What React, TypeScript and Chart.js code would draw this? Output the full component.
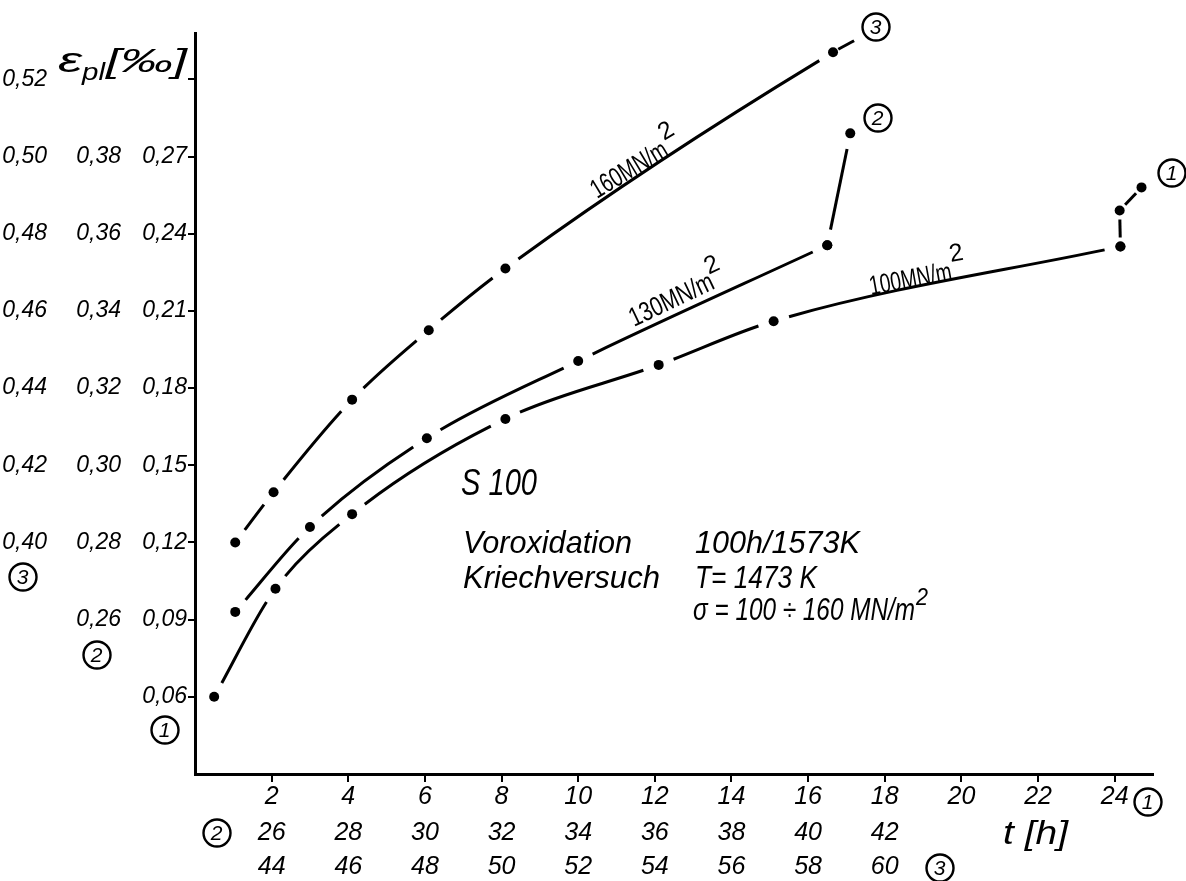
import React, { useEffect, useRef } from 'react';
import { Chart, registerables } from 'chart.js';

Chart.register(...registerables);

// ---- data ----
// Curve ① : 100 MN/m², read on scale ① (t in h, eps_pl in ‰)
const T1 = [0.5, 2.1, 4.1, 8.1, 12.1, 15.1, 24.15];
const E1 = [0.06, 0.102, 0.131, 0.168, 0.189, 0.206, 0.235];
const T1_END = [24.15, 24.13, 24.7];
const E1_END = [0.235, 0.249, 0.258];
// Curve ② : 130 MN/m², read on scale ②
const T2 = [25.05, 27.0, 30.05, 34.0, 40.5];
const E2 = [0.262, 0.284, 0.307, 0.327, 0.357];
const T2_END = [40.5, 41.1];
const E2_END = [0.357, 0.386];
// Curve ③ : 160 MN/m², read on scale ③ (last value = open end of the line, no marker)
const T3 = [43.05, 44.05, 46.1, 48.1, 50.1, 58.65, 59.2];
const E3 = [0.4, 0.413, 0.437, 0.455, 0.471, 0.527, 0.53];
const R3 = [5, 5, 5, 5, 5, 5, 0];

// tick labels
const X1_TICKS = [2, 4, 6, 8, 10, 12, 14, 16, 18, 20, 22, 24];
const X2_TICKS = [26, 28, 30, 32, 34, 36, 38, 40, 42];
const X3_TICKS = [44, 46, 48, 50, 52, 54, 56, 58, 60];
const Y1_TICKS = [0.06, 0.09, 0.12, 0.15, 0.18, 0.21, 0.24, 0.27, 0.3];
const Y1_LABELED = [0.06, 0.09, 0.12, 0.15, 0.18, 0.21, 0.24, 0.27];
const Y2_TICKS = [0.26, 0.28, 0.3, 0.32, 0.34, 0.36, 0.38];
const Y3_TICKS = [0.4, 0.42, 0.44, 0.46, 0.48, 0.5, 0.52];

const FONT = '"Liberation Sans", "DejaVu Sans", Arial, sans-serif';
const NARROW = '"Liberation Sans Narrow", "Liberation Sans", "DejaVu Sans Condensed", sans-serif';

const pts = (xs: number[], ys: number[]) => xs.map((x, i) => ({ x, y: ys[i] }));
const comma = (v: number) => v.toFixed(2).replace('.', ',');

const GAP = 16;
function gapDash(ctx: any) {
  const p0 = ctx.p0;
  const p1 = ctx.p1;
  const L = Math.hypot(p1.x - p0.x, p1.y - p0.y);
  const g = Math.min(GAP, L * 0.25);
  const m0 = p0.options && p0.options.radius > 0;
  const m1 = p1.options && p1.options.radius > 0;
  const g0 = m0 ? g : 0;
  const g1 = m1 ? g : 0;
  return [0, g0, Math.max(L - g0 - g1, 0.5), 100000 + ctx.p0DataIndex * 0.01 + ctx.datasetIndex * 0.001];
}

function fitText(ctx: CanvasRenderingContext2D, text: string, x: number, y: number, width: number, size: number, family = FONT, italic = true) {
  ctx.save();
  ctx.font = `${italic ? 'italic ' : ''}${size}px ${family}`;
  ctx.textAlign = 'left';
  ctx.textBaseline = 'alphabetic';
  const m = ctx.measureText(text).width;
  ctx.translate(x, y);
  ctx.scale(width / m, 1);
  ctx.fillText(text, 0, 0);
  ctx.restore();
}

function curveLabel(ctx: CanvasRenderingContext2D, text: string, x0: number, y0: number, x1: number, y1: number, size: number, supAlong: number, supUp: number) {
  const ang = Math.atan2(y1 - y0, x1 - x0);
  const len = Math.hypot(x1 - x0, y1 - y0);
  ctx.save();
  ctx.translate(x0, y0);
  ctx.rotate(ang);
  ctx.font = `${size}px ${NARROW}`;
  ctx.textAlign = 'left';
  ctx.textBaseline = 'alphabetic';
  const m = ctx.measureText(text).width;
  ctx.save();
  ctx.scale(len / m, 1);
  ctx.fillText(text, 0, 0);
  ctx.restore();
  ctx.font = `${size - 2}px ${NARROW}`;
  ctx.textAlign = 'center';
  ctx.textBaseline = 'middle';
  ctx.fillText('2', len + supAlong, -supUp);
  ctx.restore();
}

function circled(ctx: CanvasRenderingContext2D, cx: number, cy: number, digit: string) {
  ctx.save();
  ctx.beginPath();
  ctx.arc(cx, cy, 13.5, 0, Math.PI * 2);
  ctx.lineWidth = 2.4;
  ctx.strokeStyle = '#000';
  ctx.stroke();
  ctx.font = `italic 21px ${FONT}`;
  ctx.textAlign = 'center';
  ctx.textBaseline = 'middle';
  ctx.fillStyle = '#000';
  ctx.fillText(digit, cx - 0.5, cy + 1);
  ctx.restore();
}

const annotations = {
  id: 'annotations',
  afterDraw(chart: any) {
    const ctx: CanvasRenderingContext2D = chart.ctx;
    ctx.save();
    ctx.fillStyle = '#000';
    // y-axis title
    fitText(ctx, 'ε', 58, 72, 24, 36);
    fitText(ctx, 'pl', 82, 80, 23, 24);
    fitText(ctx, '[‰]', 106, 72, 81, 33);
    // x-axis title
    fitText(ctx, 't [h]', 1003, 844, 65, 34);
    // scale markers
    circled(ctx, 165, 730, '1');
    circled(ctx, 97, 655, '2');
    circled(ctx, 23, 577, '3');
    circled(ctx, 1148, 802, '1');
    circled(ctx, 217, 833, '2');
    circled(ctx, 940, 868, '3');
    // curve end markers
    circled(ctx, 876, 27, '3');
    circled(ctx, 878, 118, '2');
    circled(ctx, 1172, 173, '1');
    // curve labels
    curveLabel(ctx, '160MN/m', 597, 199, 670, 155, 27, 9, 22);
    curveLabel(ctx, '130MN/m', 634, 327, 716, 288, 27, 6, 22);
    curveLabel(ctx, '100MN/m', 871, 295, 953, 280, 27, 8, 25);
    // info block
    fitText(ctx, 'S 100', 461, 495, 76, 37);
    fitText(ctx, 'Voroxidation', 463, 553, 169, 32);
    fitText(ctx, 'Kriechversuch', 463, 588, 197, 32);
    fitText(ctx, '100h/1573K', 695, 553, 165, 32);
    fitText(ctx, 'T= 1473 K', 695, 588, 122, 32);
    fitText(ctx, 'σ = 100 ÷ 160 MN/m', 693, 620, 222, 32);
    fitText(ctx, '2', 916, 605, 12, 23);
    ctx.restore();
  },
};

export default function App() {
  const ref = useRef<HTMLCanvasElement | null>(null);

  useEffect(() => {
    if (!ref.current) return;
    const line = {
      borderColor: '#000',
      borderWidth: 3,
      pointBackgroundColor: '#000',
      pointBorderWidth: 0,
      pointRadius: 5,
      fill: false,
      showLine: true,
      segment: { borderDash: gapDash },
    };
    const tickFont = (size: number) => ({ family: FONT, size, style: 'italic' as const });
    const setTicks = (arr: number[]) => (scale: any) => {
      scale.ticks = arr.map((value) => ({ value }));
    };
    const hiddenGrid = { display: false, drawTicks: false, drawOnChartArea: false };

    const chart = new Chart(ref.current, {
      type: 'line',
      data: {
        datasets: [
          { ...line, data: pts(T1, E1), xAxisID: 'x1', yAxisID: 'y1', cubicInterpolationMode: 'monotone' },
          { ...line, data: pts(T1_END, E1_END), xAxisID: 'x1', yAxisID: 'y1', tension: 0 },
          { ...line, data: pts(T2, E2), xAxisID: 'x2', yAxisID: 'y2', cubicInterpolationMode: 'monotone' },
          { ...line, data: pts(T2_END, E2_END), xAxisID: 'x2', yAxisID: 'y2', tension: 0 },
          { ...line, data: pts(T3, E3), xAxisID: 'x3', yAxisID: 'y3', cubicInterpolationMode: 'monotone', pointRadius: R3 },
        ] as any,
      },
      options: {
        responsive: false,
        animation: false,
        events: [],
        layout: { padding: { top: 33, right: 33, left: 0, bottom: 0 } },
        plugins: { legend: { display: false }, tooltip: { enabled: false } },
        scales: {
          x1: {
            type: 'linear', position: 'bottom', weight: 0, min: 0, max: 25,
            afterBuildTicks: setTicks(X1_TICKS),
            afterFit: (s: any) => { s.height = 37; },
            grid: { display: true, drawOnChartArea: false, drawTicks: true, tickLength: 8, color: '#000', lineWidth: 2 },
            border: { display: true, color: '#000', width: 3 },
            ticks: { font: tickFont(25), color: '#000', padding: 0, autoSkip: false, maxRotation: 0, minRotation: 0, callback: (v: any) => String(v) },
          },
          x2: {
            type: 'linear', position: 'bottom', weight: 1, min: 24, max: 49,
            afterBuildTicks: setTicks(X2_TICKS),
            afterFit: (s: any) => { s.height = 35; },
            grid: hiddenGrid,
            border: { display: false },
            ticks: { font: tickFont(25), color: '#000', padding: 7, autoSkip: false, maxRotation: 0, minRotation: 0, callback: (v: any) => String(v) },
          },
          x3: {
            type: 'linear', position: 'bottom', weight: 2, min: 42, max: 67,
            afterBuildTicks: setTicks(X3_TICKS),
            afterFit: (s: any) => { s.height = 35; },
            grid: hiddenGrid,
            border: { display: false },
            ticks: { font: tickFont(25), color: '#000', padding: 6, autoSkip: false, maxRotation: 0, minRotation: 0, callback: (v: any) => String(v) },
          },
          y1: {
            type: 'linear', position: 'left', weight: 0, min: 0.03, max: 0.318,
            afterBuildTicks: setTicks(Y1_TICKS),
            afterFit: (s: any) => { s.width = 71; },
            grid: { display: true, drawOnChartArea: false, drawTicks: true, tickLength: 7, color: '#000', lineWidth: 2 },
            border: { display: true, color: '#000', width: 3 },
            ticks: {
              font: tickFont(23), color: '#000', padding: 1, autoSkip: false,
              callback: (v: any) => (Y1_LABELED.some((t) => Math.abs(t - v) < 1e-6) ? comma(v) : ''),
            },
          },
          y2: {
            type: 'linear', position: 'left', weight: 1, min: 0.22, max: 0.412,
            afterBuildTicks: setTicks(Y2_TICKS),
            afterFit: (s: any) => { s.width = 72; },
            grid: hiddenGrid,
            border: { display: false },
            ticks: { font: tickFont(23), color: '#000', padding: 3, autoSkip: false, callback: (v: any) => comma(v) },
          },
          y3: {
            type: 'linear', position: 'left', weight: 2, min: 0.34, max: 0.532,
            afterBuildTicks: setTicks(Y3_TICKS),
            afterFit: (s: any) => { s.width = 52; },
            grid: hiddenGrid,
            border: { display: false },
            ticks: { font: tickFont(23), color: '#000', padding: 5, autoSkip: false, callback: (v: any) => comma(v) },
          },
        } as any,
      },
      plugins: [annotations],
    });
    return () => chart.destroy();
  }, []);

  return (
    <div style={{ position: 'absolute', left: 0, top: 0, width: 1186, height: 881, background: '#fff' }}>
      <canvas ref={ref} width={1186} height={881} style={{ width: 1186, height: 881, display: 'block' }} />
    </div>
  );
}
